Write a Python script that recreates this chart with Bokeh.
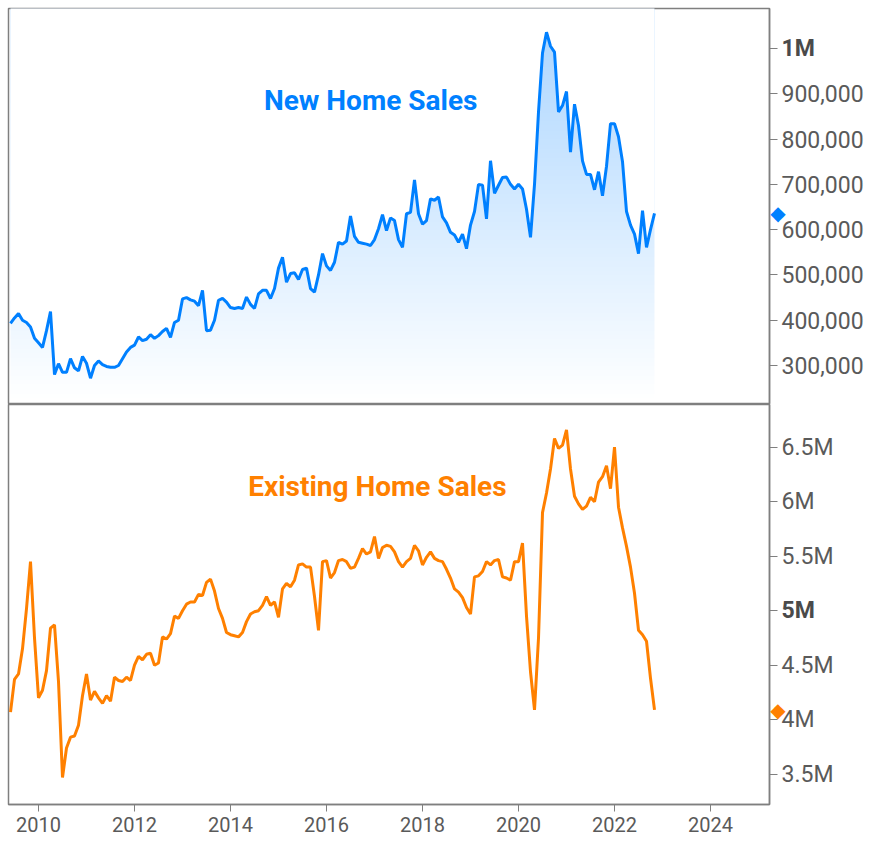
import numpy as np
import pandas as pd
from bokeh.plotting import figure
from bokeh.layouts import column
from bokeh.models import Range1d, FixedTicker, Label
from bokeh.embed import file_html
from bokeh.resources import INLINE

# ---------------- data (monthly, SAAR) ----------------
first_month = "2009-06-01"

new_home_sales_k = [
    393, 405, 415, 400, 395, 385, 360, 350, 340, 377, 419, 280, 304, 285, 285, 315,
    295, 288, 320, 305, 272, 300, 310, 302, 298, 296, 296, 300, 315, 330, 340, 345,
    363, 355, 358, 368, 360, 366, 375, 382, 362, 395, 400, 447, 450, 445, 442, 432,
    466, 377, 378, 400, 444, 448, 440, 428, 426, 428, 426, 451, 435, 426, 458, 466,
    466, 448, 470, 515, 539, 484, 503, 505, 490, 512, 515, 470, 462, 500, 547, 520,
    510, 528, 572, 568, 575, 630, 585, 572, 570, 568, 565, 578, 602, 633, 598, 626,
    620, 578, 561, 635, 638, 710, 635, 612, 620, 668, 665, 672, 628, 615, 594, 588,
    572, 590, 558, 610, 640, 700, 698, 624, 752, 680, 698, 715, 716, 700, 690, 700,
    690, 645, 583, 700, 860, 990, 1036, 1005, 992, 860, 874, 905, 771, 877, 830, 752,
    722, 722, 688, 728, 675, 740, 834, 834, 805, 750, 640, 610, 590, 547, 642, 561,
    600, 636,
]

existing_home_sales_m = [
    4.07, 4.37, 4.42, 4.65, 5.02, 5.45, 4.75, 4.20, 4.27, 4.45, 4.84, 4.87, 4.35, 3.47, 3.74, 3.84,
    3.85, 3.95, 4.22, 4.42, 4.18, 4.26, 4.20, 4.15, 4.22, 4.17, 4.39, 4.36, 4.35, 4.39, 4.36, 4.50,
    4.58, 4.55, 4.60, 4.61, 4.50, 4.52, 4.76, 4.74, 4.79, 4.95, 4.93, 5.00, 5.06, 5.08, 5.08, 5.15,
    5.14, 5.26, 5.29, 5.18, 5.02, 4.93, 4.80, 4.78, 4.77, 4.76, 4.80, 4.90, 4.97, 4.99, 5.00, 5.05,
    5.13, 5.05, 5.08, 4.94, 5.20, 5.25, 5.22, 5.28, 5.42, 5.43, 5.40, 5.40, 5.13, 4.82, 5.45, 5.46,
    5.30, 5.35, 5.46, 5.47, 5.45, 5.39, 5.40, 5.48, 5.57, 5.52, 5.54, 5.68, 5.48, 5.58, 5.60, 5.59,
    5.54, 5.45, 5.40, 5.45, 5.48, 5.60, 5.55, 5.42, 5.49, 5.54, 5.48, 5.46, 5.45, 5.38, 5.30, 5.20,
    5.17, 5.12, 5.03, 4.97, 5.31, 5.32, 5.36, 5.45, 5.42, 5.46, 5.47, 5.31, 5.30, 5.28, 5.45, 5.45,
    5.62, 4.95, 4.44, 4.09, 4.75, 5.90, 6.08, 6.30, 6.58, 6.49, 6.52, 6.66, 6.30, 6.05, 5.98, 5.93,
    5.96, 6.04, 6.00, 6.18, 6.23, 6.33, 6.12, 6.50, 5.95, 5.76, 5.59, 5.40, 5.16, 4.82, 4.78, 4.72,
    4.38, 4.09,
]

year_ticks = [2010, 2012, 2014, 2016, 2018, 2020, 2022, 2024]
new_ticks = [300000, 400000, 500000, 600000, 700000, 800000, 900000, 1000000]
existing_ticks = [3500000, 4000000, 4500000, 5000000, 5500000, 6000000, 6500000]

new_title = "New Home Sales"
existing_title = "Existing Home Sales"

# ---------------- derived ----------------
new_vals = np.array(new_home_sales_k, dtype=float) * 1000
ex_vals = np.array(existing_home_sales_m, dtype=float) * 1e6
dates = pd.date_range(first_month, periods=len(new_vals), freq="MS")
xs = (dates.year + (dates.month - 1) / 12.0).to_numpy(dtype=float)

BLUE = "#0080ff"
ORANGE = "#ff8000"
FRAME = "#7f7f7f"
LABEL = "#5a5a5a"
FONT = "Roboto"
LEFT, FRAME_W = 8, 761

x_range = Range1d(2009.375, 2025.229)


def style_right_axis(p, ticks, labels):
    ax = p.yaxis[0]
    ax.ticker = FixedTicker(ticks=ticks)
    ax.major_label_overrides = labels
    ax.major_label_text_font = FONT
    ax.major_label_text_font_size = "23px"
    ax.major_label_text_color = LABEL
    ax.major_tick_out = 8
    ax.major_tick_in = 0
    ax.minor_tick_out = 0
    ax.minor_tick_in = 0
    ax.major_label_standoff = 4
    ax.axis_line_color = FRAME
    ax.axis_line_width = 1.5
    ax.major_tick_line_color = FRAME
    ax.major_tick_line_width = 1.2


def base_fig(y_range, frame_h, with_x):
    p = figure(
        frame_width=FRAME_W, frame_height=frame_h,
        x_range=x_range, y_range=y_range,
        output_backend="svg", toolbar_location=None,
        x_axis_location="below" if with_x else None,
        y_axis_location="right",
        min_border_left=LEFT, min_border_right=103,
        min_border_top=8 if not with_x else 0,
        min_border_bottom=38 if with_x else 0,
        background_fill_color="white", border_fill_color="white",
    )
    p.grid.visible = False
    p.outline_line_color = FRAME
    p.outline_line_width = 1.5
    return p


def side_marks(p, bold_value, bold_text, last_value, color):
    # placed in the right side panel so they are not clipped to the frame
    p.add_layout(Label(x=x_range.end, x_offset=12, y=bold_value,
                       text=bold_text, text_font=FONT, text_font_size="23px",
                       text_font_style="bold", text_color="#4a4a4a",
                       text_align="left", text_baseline="middle"), "right")
    p.add_layout(Label(x=x_range.end, x_offset=8.5, y=last_value,
                       text="\u25c6", text_font="DejaVu Sans", text_font_size="20px",
                       text_color=color, text_align="center", text_baseline="middle"), "right")


# ---------------- top: new home sales ----------------
y1 = Range1d(213900, 1088300)
p1 = base_fig(y1, 396, False)

nrows = 200
alpha = np.linspace(0.0, 0.34, nrows)
img = np.zeros((nrows, 1), dtype=np.uint32)
view = img.view(dtype=np.uint8).reshape((nrows, 1, 4))
view[:, 0, 0] = 0
view[:, 0, 1] = 128
view[:, 0, 2] = 255
view[:, 0, 3] = (alpha * 255).astype(np.uint8)
p1.image_rgba(image=[img], x=xs[0], y=y1.start, dw=xs[-1] - xs[0], dh=y1.end - y1.start)
p1.varea(x=xs, y1=new_vals, y2=y1.end + 100000, fill_color="white", fill_alpha=1.0)
p1.line(xs, new_vals, line_color=BLUE, line_width=3)

style_right_axis(p1, new_ticks,
                 {v: ("" if v == 1000000 else f"{v:,}") for v in new_ticks})
side_marks(p1, 1000000, "1M", new_vals[-1], BLUE)
p1.add_layout(Label(x=2016.92, y=885000, text=new_title, text_font=FONT,
                    text_font_size="28px", text_font_style="bold", text_color=BLUE,
                    text_align="center", text_baseline="middle"))

# ---------------- bottom: existing home sales ----------------
y2 = Range1d(3222000, 6892000)
p2 = base_fig(y2, 400, True)
p2.line(xs, ex_vals, line_color=ORANGE, line_width=3)

style_right_axis(p2, existing_ticks,
                 {v: ("" if v == 5000000 else f"{v / 1e6:g}M") for v in existing_ticks})
side_marks(p2, 5000000, "5M", ex_vals[-1], ORANGE)
p2.add_layout(Label(x=2017.06, y=6140000, text=existing_title, text_font=FONT,
                    text_font_size="28px", text_font_style="bold", text_color=ORANGE,
                    text_align="center", text_baseline="middle"))

xa = p2.xaxis[0]
xa.ticker = FixedTicker(ticks=year_ticks)
xa.major_label_overrides = {y: str(y) for y in year_ticks}
xa.major_label_text_font = FONT
xa.major_label_text_font_size = "20px"
xa.major_label_text_color = LABEL
xa.major_tick_out = 7
xa.major_tick_in = 0
xa.minor_tick_out = 0
xa.minor_tick_in = 0
xa.major_label_standoff = 5
xa.axis_line_color = FRAME
xa.axis_line_width = 1.5
xa.major_tick_line_color = FRAME

layout = column(p1, p2, spacing=0)
open("out.html", "w").write(file_html(layout, INLINE))
